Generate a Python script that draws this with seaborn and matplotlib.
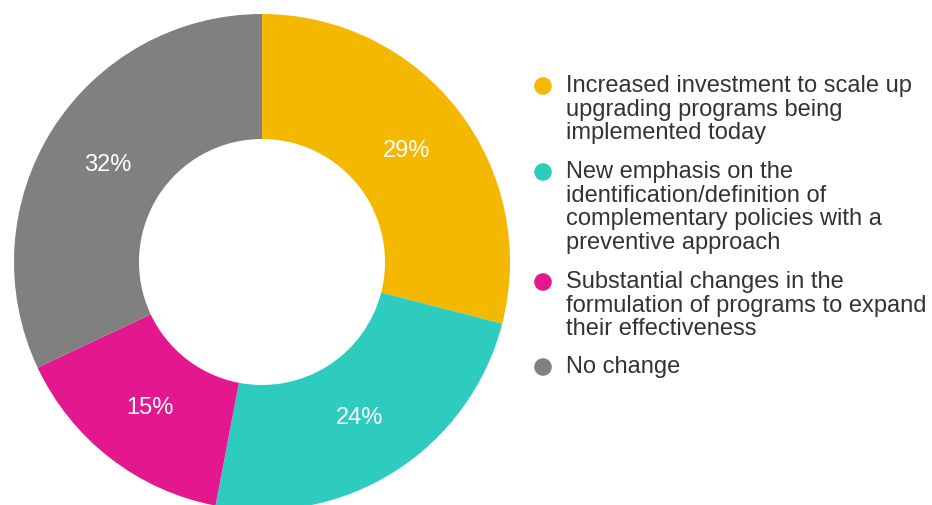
import matplotlib
matplotlib.use("Agg")
import matplotlib.pyplot as plt
import seaborn as sns
import pandas as pd

categories = [
    "Increased investment to scale up\nupgrading programs being\nimplemented today",
    "New emphasis on the\nidentification/definition of\ncomplementary policies with a\npreventive approach",
    "Substantial changes in the\nformulation of programs to expand\ntheir effectiveness",
    "No change",
]
shares = [29, 24, 15, 32]
colors = ["#F5B800", "#2ECCBF", "#E3178E", "#808080"]

sns.set_theme(style="white")
plt.rcParams["font.family"] = ["Liberation Sans", "DejaVu Sans"]

W, H = 932, 506
fig = plt.figure(figsize=(W / 100, H / 100), dpi=100)
ax = fig.add_axes([0, 0, 1, 1])

# Donut, clockwise from twelve o'clock
cx, cy, r_out, r_in = 262, H - 263, 248, 123
wedges, texts, autotexts = ax.pie(
    shares,
    colors=colors,
    startangle=90,
    counterclock=False,
    radius=r_out,
    center=(cx, cy),
    wedgeprops=dict(width=r_out - r_in, linewidth=0),
    autopct=lambda p: f"{p:.0f}%",
    pctdistance=183 / r_out,
    textprops=dict(color="white", fontsize=17),
    frame=True,
)

# Legend: coloured dots with wrapped descriptions
legend_df = pd.DataFrame({
    "x": [543] * 4,
    "y": [H - 87, H - 173, H - 283, H - 368],
    "label": categories,
})
sns.scatterplot(data=legend_df, x="x", y="y", hue="label", palette=colors,
                s=160, linewidth=0, legend=False, ax=ax)
for _, row in legend_df.iterrows():
    ax.text(566, row["y"] + 12, row["label"], ha="left", va="top",
            fontsize=17, color="#333333", linespacing=1.09)

ax.set_xlim(0, W)
ax.set_ylim(0, H)
ax.set_aspect("equal")
ax.set_xlabel("")
ax.set_ylabel("")
ax.axis("off")

fig.savefig("out.png", dpi=100)
